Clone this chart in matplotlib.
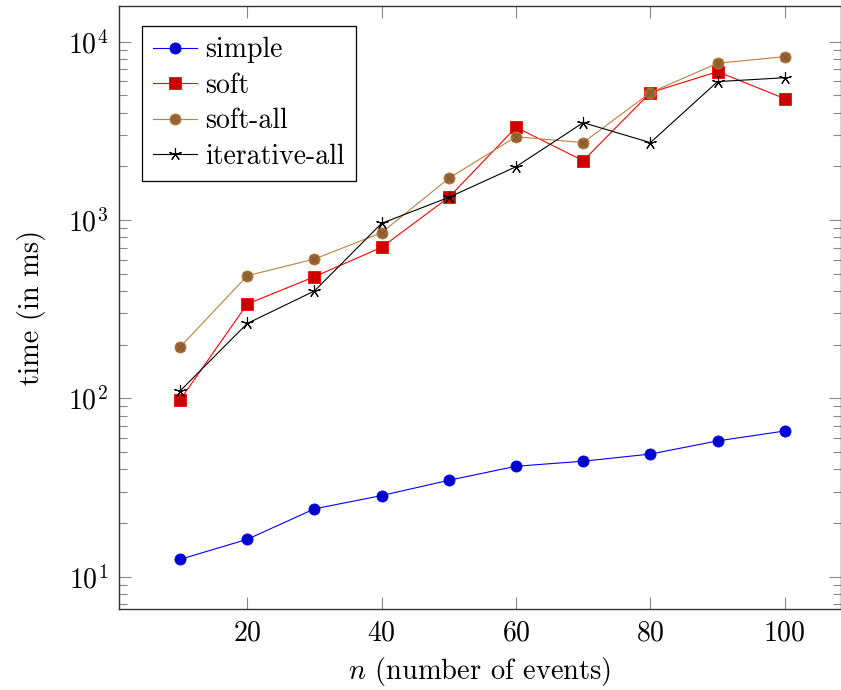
import numpy as np
import matplotlib
matplotlib.use("Agg")
import matplotlib.pyplot as plt
from matplotlib.ticker import LogLocator, NullFormatter, FixedLocator

# data (time in ms)
n_events = [10, 20, 30, 40, 50, 60, 70, 80, 90, 100]
simple = [12.5, 16.2, 24.0, 28.5, 34.7, 41.6, 44.4, 48.7, 57.7, 65.6]
soft = [98, 338, 481, 703, 1340, 3310, 2150, 5180, 6790, 4790]
soft_all = [194, 487, 604, 849, 1714, 2930, 2716, 5180, 7570, 8240]
iterative_all = [110, 263, 400, 958, 1340, 1990, 3514, 2716, 5970, 6280]

x_ticks = [20, 40, 60, 80, 100]

plt.rcParams['font.family'] = 'cmr10'
plt.rcParams['mathtext.fontset'] = 'cm'
plt.rcParams['axes.formatter.use_mathtext'] = True

fig = plt.figure(figsize=(8.41, 6.90), dpi=100)
ax = fig.add_axes([119.3 / 841, 1 - 609.3 / 690, (840.5 - 119.3) / 841, (609.3 - 6) / 690])

lw = 0.8
ms = 8
ax.plot(n_events, simple, color='#0000ff', lw=lw, marker='o', ms=ms,
        mfc='#0000cc', mec='#0000ff', mew=0.6, label='simple')
ax.plot(n_events, soft, color='#ff0000', lw=lw, marker='s', ms=ms,
        mfc='#cc0000', mec='#ff0000', mew=0.6, label='soft')
ax.plot(n_events, soft_all, color='#bf8040', lw=lw, marker='o', ms=ms,
        mfc='#996633', mec='#bf8040', mew=0.6, label='soft-all')
# cross inside the brown circles (otimes)
ax.plot(n_events, soft_all, ls='none', marker='x', ms=5.5, mec='#7a5228', mew=0.5)
ax.plot(n_events, iterative_all, color='black', lw=lw, marker=(5, 2, 0), ms=9,
        mec='black', mew=0.8, label='iterative-all')

ax.set_yscale('log')
ax.set_xlim(0.95, 108.3)
ax.set_ylim(6.56, 15850)

ax.xaxis.set_major_locator(FixedLocator(x_ticks))
ax.yaxis.set_major_locator(LogLocator(base=10, numticks=10))
ax.yaxis.set_minor_locator(LogLocator(base=10, subs=np.arange(2, 10), numticks=20))
ax.yaxis.set_minor_formatter(NullFormatter())

ax.tick_params(which='both', direction='in', top=True, right=True,
               color='#888888', width=0.8, labelsize=20, pad=8)
ax.tick_params(which='major', length=8.6)
ax.tick_params(which='minor', length=5.8)
for sp in ax.spines.values():
    sp.set_linewidth(1.0)
    sp.set_color('#333333')

ax.set_xlabel(r'$n$ (number of events)', fontsize=20.5, labelpad=6)
ax.set_ylabel('time (in ms)', fontsize=20.5, labelpad=16)

leg = ax.legend(handles=[ax.lines[0], ax.lines[1], ax.lines[2], ax.lines[4]],
                loc='upper left', bbox_to_anchor=(0.031, 0.967), borderaxespad=0,
                fontsize=20, frameon=True, fancybox=False, framealpha=1,
                edgecolor='black', handlelength=1.6, handletextpad=0.3,
                labelspacing=0.33, borderpad=0.4)
leg.get_frame().set_linewidth(0.9)

fig.savefig('out.png', dpi=100)
